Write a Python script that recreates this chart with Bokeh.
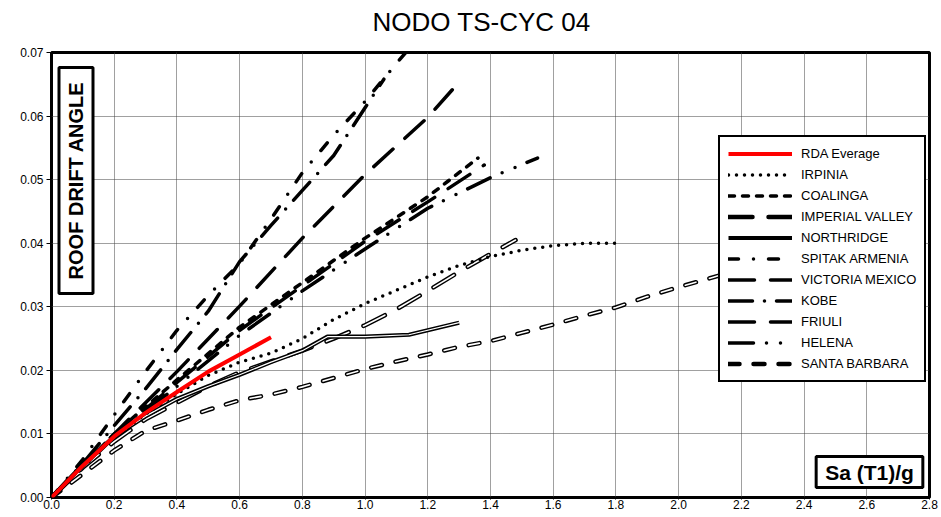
from bokeh.plotting import figure
from bokeh.models import Range1d, FixedTicker, NumeralTickFormatter, Label, Legend, LegendItem, Title
from bokeh.embed import file_html
from bokeh.resources import INLINE

# ---------------- data ----------------
title_text = "NODO TS-CYC 04"
x_ticks = [0.0, 0.2, 0.4, 0.6, 0.8, 1.0, 1.2, 1.4, 1.6, 1.8, 2.0, 2.2, 2.4, 2.6, 2.8]
y_ticks = [0.00, 0.01, 0.02, 0.03, 0.04, 0.05, 0.06, 0.07]

rda_x = [0, 0.1, 0.2, 0.3, 0.4, 0.5, 0.6, 0.7]
rda_y = [0, 0.0050, 0.0096, 0.0133, 0.0166, 0.0198, 0.0225, 0.0252]

irpinia_x = [0, 0.1, 0.2, 0.3, 0.4, 0.5, 0.6, 0.7, 0.8, 0.9, 1.0, 1.1, 1.2, 1.3, 1.4, 1.5, 1.6, 1.7, 1.8]
irpinia_y = [0, 0.0050, 0.0095, 0.0131, 0.0163, 0.0192, 0.0213, 0.0227, 0.0250, 0.0280, 0.0305, 0.0326, 0.0347, 0.0365, 0.0379, 0.0389, 0.0396, 0.0400, 0.0400]

coalinga_x = [0, 0.2, 0.4, 0.6, 0.8, 1.0, 1.2, 1.36]
coalinga_y = [0, 0.0100, 0.0185, 0.0268, 0.0338, 0.0408, 0.0473, 0.0534]

imperial_x = [0, 0.1, 0.2, 0.3, 0.4, 0.5, 0.6, 0.7, 0.8, 0.9, 1.0, 1.1, 1.2, 1.3, 1.4, 1.48]
imperial_y = [0, 0.0047, 0.0088, 0.0123, 0.0149, 0.0175, 0.0197, 0.0214, 0.0231, 0.0250, 0.0271, 0.0296, 0.0325, 0.0355, 0.0383, 0.0405]

northridge_x = [0, 0.1, 0.2, 0.3, 0.4, 0.5, 0.6, 0.7, 0.8, 0.88, 1.0, 1.14, 1.3]
northridge_y = [0, 0.0052, 0.0096, 0.0128, 0.0155, 0.0175, 0.0193, 0.0213, 0.0231, 0.0253, 0.0253, 0.0256, 0.0275]

spitak_x = [0, 0.1, 0.2, 0.3, 0.4, 0.5, 0.6, 0.7, 0.8, 0.9, 1.0, 1.1, 1.135]
spitak_y = [0, 0.0060, 0.0130, 0.0198, 0.0263, 0.0318, 0.0368, 0.0438, 0.0511, 0.0570, 0.0623, 0.0683, 0.0703]

victoria_x = [0, 0.2, 0.4, 0.6, 0.8, 1.0, 1.2, 1.29]
victoria_y = [0, 0.0100, 0.0198, 0.0301, 0.0408, 0.0508, 0.0598, 0.0648]

kobe_x = [0, 0.1, 0.2, 0.3, 0.4, 0.5, 0.6, 0.7, 0.8, 0.9, 1.0, 1.06]
kobe_y = [0, 0.0054, 0.0113, 0.0171, 0.0233, 0.0293, 0.0371, 0.0428, 0.0483, 0.0538, 0.0613, 0.0658]

friuli_x = [0, 0.2, 0.4, 0.6, 0.8, 1.0, 1.2, 1.38]
friuli_y = [0, 0.0097, 0.0181, 0.0263, 0.0333, 0.0403, 0.0465, 0.0523]

helena_x = [0, 0.2, 0.4, 0.6, 0.8, 1.0, 1.2, 1.4, 1.55]
helena_y = [0, 0.0095, 0.0175, 0.0255, 0.0325, 0.0391, 0.0455, 0.0503, 0.0534]

santa_x = [0, 0.1, 0.2, 0.3, 0.4, 0.5, 0.6, 0.7, 0.8, 0.9, 1.0, 1.1, 1.2, 1.3, 1.4, 1.5, 1.6, 1.7, 1.8, 1.9, 2.0, 2.1, 2.3]
santa_y = [0, 0.0037, 0.0074, 0.0105, 0.0121, 0.0138, 0.0153, 0.0162, 0.0174, 0.0188, 0.0202, 0.0214, 0.0225, 0.0237, 0.0246, 0.0259, 0.0272, 0.0286, 0.0299, 0.0316, 0.0331, 0.0345, 0.0373]

# ---------------- figure ----------------
FONT = "Liberation Sans"
W, H = 941, 517
BL, BR, BT, BB = 51, 12, 52, 20
p = figure(width=W, height=H, output_backend="svg", toolbar_location=None,
           x_range=Range1d(0, 2.8), y_range=Range1d(0, 0.07),
           min_border_left=BL, min_border_right=BR, min_border_top=BT, min_border_bottom=BB)
p.background_fill_color = "white"
p.border_fill_color = "white"
p.outline_line_color = "black"
p.outline_line_width = 3

# spacer panel between the frame and the title, then the title itself
p.add_layout(Title(text=" ", text_font=FONT, text_font_size="12px", standoff=0), "above")
p.add_layout(Title(text=title_text, align="left", offset=321, text_font=FONT,
                   text_font_size="26px", text_font_style="normal", text_color="black",
                   standoff=0), "above")

p.xaxis.ticker = FixedTicker(ticks=x_ticks)
p.yaxis.ticker = FixedTicker(ticks=y_ticks)
p.xaxis.formatter = NumeralTickFormatter(format="0.0")
p.yaxis.formatter = NumeralTickFormatter(format="0.00")
for ax in (p.xaxis, p.yaxis):
    ax.axis_line_color = None
    ax.minor_tick_line_color = None
    ax.major_tick_line_color = "black"
    ax.major_tick_in = 0
    ax.major_label_text_font = FONT
    ax.major_label_text_font_size = "12px"
    ax.major_label_text_color = "black"
p.xaxis.major_tick_out = 2
p.xaxis.major_label_standoff = 0
p.yaxis.major_tick_out = 5
p.yaxis.major_label_standoff = 3

p.xgrid.ticker = FixedTicker(ticks=x_ticks)
p.ygrid.ticker = FixedTicker(ticks=y_ticks)
for g in (p.xgrid, p.ygrid):
    g.grid_line_color = "#404040"
    g.grid_line_dash = "1 1"
    g.grid_line_width = 1

LW = 3.5

def hollow(x, y, dash):
    r = p.line(x, y, line_color="black", line_width=4.5, line_dash=dash, line_cap="round")
    p.line(x, y, line_color="white", line_width=1.6, line_dash=dash, line_cap="round")
    return r

r_santa = hollow(santa_x, santa_y, "11 14")
r_imperial = hollow(imperial_x, imperial_y, "24 16")
r_north = p.line(northridge_x, northridge_y, line_color="black", line_width=4.2)
p.line(northridge_x, northridge_y, line_color="white", line_width=1.2)
r_irp = p.line(irpinia_x, irpinia_y, line_color="black", line_width=LW, line_dash="0 8", line_cap="round")
r_helena = p.line(helena_x, helena_y, line_color="black", line_width=LW, line_dash="25 13 0 14 0 13", line_cap="round")
r_friuli = p.line(friuli_x, friuli_y, line_color="black", line_width=LW, line_dash="26 16", line_cap="round")
r_coal = p.line(coalinga_x, coalinga_y, line_color="black", line_width=LW, line_dash="6 8", line_cap="round")
r_vic = p.line(victoria_x, victoria_y, line_color="black", line_width=LW, line_dash="26 16", line_cap="round")
r_kobe = p.line(kobe_x, kobe_y, line_color="black", line_width=LW, line_dash="24 12 0 12", line_cap="round")
r_spitak = p.line(spitak_x, spitak_y, line_color="black", line_width=LW, line_dash="10 15 0 15", line_cap="round")
r_rda = p.line(rda_x, rda_y, line_color="#ff0000", line_width=4)

legend = Legend(items=[
    LegendItem(label="RDA Everage", renderers=[r_rda]),
    LegendItem(label="IRPINIA", renderers=[r_irp]),
    LegendItem(label="COALINGA", renderers=[r_coal]),
    LegendItem(label="IMPERIAL VALLEY", renderers=[r_imperial]),
    LegendItem(label="NORTHRIDGE", renderers=[r_north]),
    LegendItem(label="SPITAK ARMENIA", renderers=[r_spitak]),
    LegendItem(label="VICTORIA MEXICO", renderers=[r_vic]),
    LegendItem(label="KOBE", renderers=[r_kobe]),
    LegendItem(label="FRIULI", renderers=[r_friuli]),
    LegendItem(label="HELENA", renderers=[r_helena]),
    LegendItem(label="SANTA BARBARA", renderers=[r_santa]),
], location=(667, 115))
legend.border_line_color = "black"
legend.border_line_alpha = 1
legend.border_line_width = 2.5
legend.background_fill_color = "white"
legend.background_fill_alpha = 1
legend.label_text_font = FONT
legend.label_text_font_size = "13px"
legend.label_text_color = "black"
legend.glyph_width = 64
legend.glyph_height = 17
legend.label_height = 17
legend.spacing = 4
legend.padding = 8
legend.margin = 0
legend.label_standoff = 9
p.add_layout(legend)

frame_h = H - BT - BB
frame_w = W - BL - BR

p.add_layout(Label(x=24.5, y=frame_h - 128, x_units="screen", y_units="screen",
                   text="ROOF DRIFT ANGLE", angle=90, angle_units="deg",
                   text_font=FONT, text_font_size="20px", text_font_style="bold",
                   text_align="center", text_baseline="middle", text_color="black",
                   border_line_color="black", border_line_width=3,
                   background_fill_color="white", padding=(14, 6)))

p.add_layout(Label(x=frame_w - 60, y=25.5, x_units="screen", y_units="screen",
                   text="Sa (T1)/g",
                   text_font=FONT, text_font_size="21px", text_font_style="bold",
                   text_align="center", text_baseline="middle", text_color="black",
                   border_line_color="black", border_line_width=3,
                   background_fill_color="white", padding=(9, 4)))

open("out.html", "w").write(file_html(p, INLINE))
